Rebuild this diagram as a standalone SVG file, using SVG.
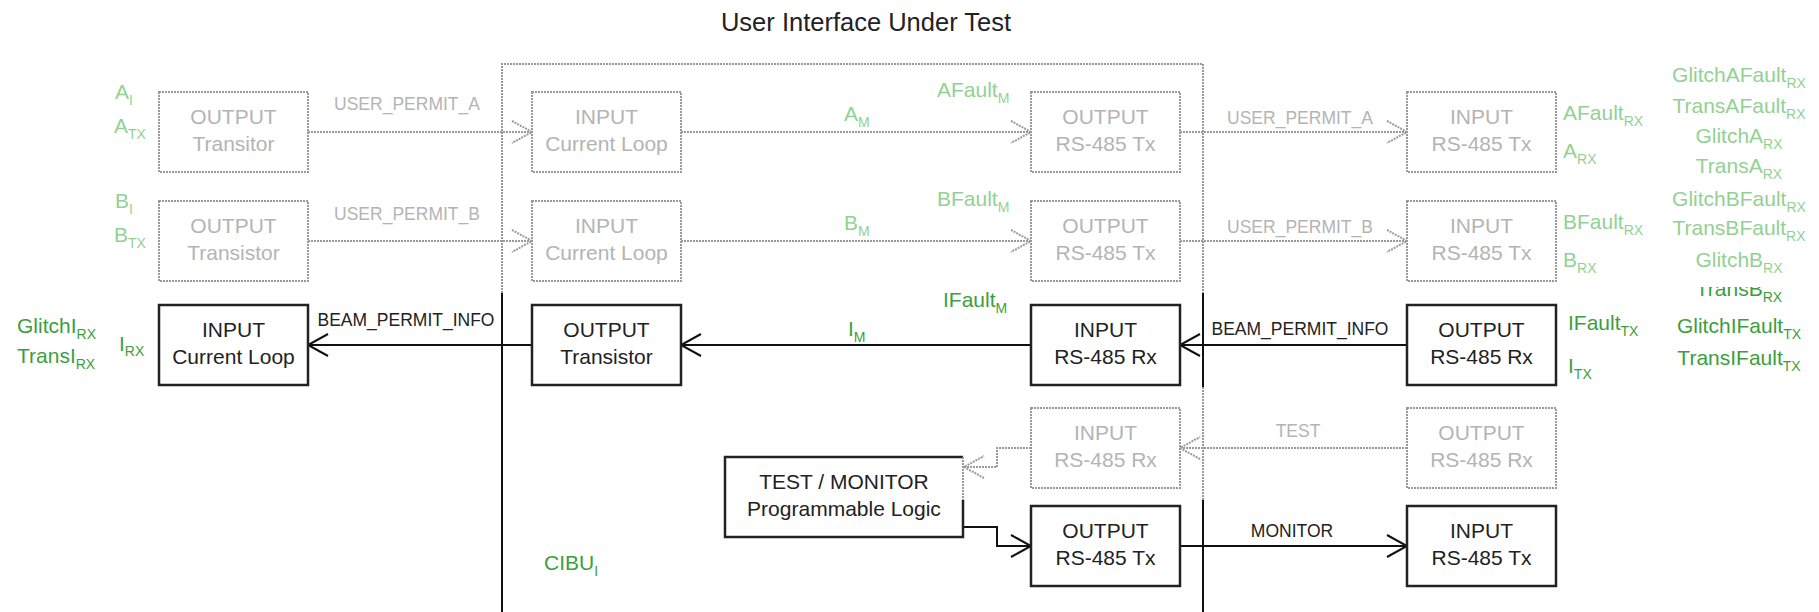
<svg xmlns="http://www.w3.org/2000/svg" width="1819" height="612" viewBox="0 0 1819 612">
<style>
text{font-family:"Liberation Sans",Arial,sans-serif}
.box{fill:#fff;stroke:#222;stroke-width:2.5}
.dbox{fill:#fff;stroke:#9a9a9a;stroke-width:2;stroke-dasharray:2 1}
.ln{fill:none;stroke:#111;stroke-width:2}
.dln{fill:none;stroke:#9a9a9a;stroke-width:2;stroke-dasharray:2 1}
.t{font-size:21px;text-anchor:middle;fill:#222}
.gt{font-size:21px;text-anchor:middle;fill:#b4b4b4}
.lbl{font-size:17.5px;text-anchor:middle;fill:#222}
.glbl{font-size:17.5px;text-anchor:middle;fill:#b4b4b4}
.g{font-size:21px;fill:#3c9e3c}
.lg{font-size:21px;fill:#93d193}
.mid{text-anchor:middle}
.s{font-size:14px}
</style>
<defs>
<marker id="ah" markerUnits="userSpaceOnUse" markerWidth="24" markerHeight="26" viewBox="-22 -13 24 26" refX="0" refY="0" orient="auto" overflow="visible">
<path d="M-20,-11 L0,0 L-20,11" fill="none" stroke="#111" stroke-width="2"/>
</marker>
<marker id="dah" markerUnits="userSpaceOnUse" markerWidth="24" markerHeight="26" viewBox="-22 -13 24 26" refX="0" refY="0" orient="auto" overflow="visible">
<path d="M-20,-11 L0,0 L-20,11" fill="none" stroke="#9a9a9a" stroke-width="2" stroke-dasharray="2 1"/>
</marker>
<clipPath id="clipTB"><rect x="1600" y="287" width="219" height="40"/></clipPath>
</defs>
<rect width="1819" height="612" fill="#fff"/>
<text x="866" y="31" style="font-size:25.5px;fill:#222" text-anchor="middle">User Interface Under Test</text>

<g id="boundary">
<path class="dln" d="M502,293 V64 H1203 V293"/>
<path class="ln" d="M502,293 V612"/>
<path class="ln" d="M1203,293 V387"/>
<path class="dln" d="M1203,387 V500"/>
<path class="ln" d="M1203,500 V612"/>
</g>

<g id="connectors">
<path class="dln" d="M308,132 H532" marker-end="url(#dah)"/>
<path class="dln" d="M681,132 H1031" marker-end="url(#dah)"/>
<path class="dln" d="M1180,132 H1407" marker-end="url(#dah)"/>
<path class="dln" d="M308,241 H532" marker-end="url(#dah)"/>
<path class="dln" d="M681,241 H1031" marker-end="url(#dah)"/>
<path class="dln" d="M1180,241 H1407" marker-end="url(#dah)"/>
<path class="ln" d="M1407,345 H1180" marker-end="url(#ah)"/>
<path class="ln" d="M1031,345 H681" marker-end="url(#ah)"/>
<path class="ln" d="M532,345 H308" marker-end="url(#ah)"/>
<path class="dln" d="M1407,448 H1180" marker-end="url(#dah)"/>
<path class="dln" d="M1031,448 H997 V467 H964" marker-end="url(#dah)"/>
<path class="ln" d="M963,527 H997 V546 H1031" marker-end="url(#ah)"/>
<path class="ln" d="M1180,546 H1407" marker-end="url(#ah)"/>
<text class="glbl" x="407" y="110">USER_PERMIT_A</text>
<text class="glbl" x="407" y="220">USER_PERMIT_B</text>
<text class="glbl" x="1300" y="124">USER_PERMIT_A</text>
<text class="glbl" x="1300" y="233">USER_PERMIT_B</text>
<text class="lbl" x="406" y="326">BEAM_PERMIT_INFO</text>
<text class="lbl" x="1300" y="335">BEAM_PERMIT_INFO</text>
<text class="glbl" x="1298" y="437">TEST</text>
<text class="lbl" x="1292" y="537">MONITOR</text>
</g>

<g id="a-out-transitor"><rect class="dbox" x="159" y="92" width="149" height="80"/><text class="gt" x="233.5" y="124">OUTPUT</text><text class="gt" x="233.5" y="151">Transitor</text></g>
<g id="a-in-currentloop"><rect class="dbox" x="532" y="92" width="149" height="80"/><text class="gt" x="606.5" y="124">INPUT</text><text class="gt" x="606.5" y="151">Current Loop</text></g>
<g id="a-out-rs485tx"><rect class="dbox" x="1031" y="92" width="149" height="80"/><text class="gt" x="1105.5" y="124">OUTPUT</text><text class="gt" x="1105.5" y="151">RS-485 Tx</text></g>
<g id="a-in-rs485tx"><rect class="dbox" x="1407" y="92" width="149" height="80"/><text class="gt" x="1481.5" y="124">INPUT</text><text class="gt" x="1481.5" y="151">RS-485 Tx</text></g>

<g id="b-out-transistor"><rect class="dbox" x="159" y="201" width="149" height="80"/><text class="gt" x="233.5" y="233">OUTPUT</text><text class="gt" x="233.5" y="260">Transistor</text></g>
<g id="b-in-currentloop"><rect class="dbox" x="532" y="201" width="149" height="80"/><text class="gt" x="606.5" y="233">INPUT</text><text class="gt" x="606.5" y="260">Current Loop</text></g>
<g id="b-out-rs485tx"><rect class="dbox" x="1031" y="201" width="149" height="80"/><text class="gt" x="1105.5" y="233">OUTPUT</text><text class="gt" x="1105.5" y="260">RS-485 Tx</text></g>
<g id="b-in-rs485tx"><rect class="dbox" x="1407" y="201" width="149" height="80"/><text class="gt" x="1481.5" y="233">INPUT</text><text class="gt" x="1481.5" y="260">RS-485 Tx</text></g>

<g id="i-in-currentloop"><rect class="box" x="159" y="305" width="149" height="80"/><text class="t" x="233.5" y="337">INPUT</text><text class="t" x="233.5" y="364">Current Loop</text></g>
<g id="i-out-transistor"><rect class="box" x="532" y="305" width="149" height="80"/><text class="t" x="606.5" y="337">OUTPUT</text><text class="t" x="606.5" y="364">Transistor</text></g>
<g id="i-in-rs485rx"><rect class="box" x="1031" y="305" width="149" height="80"/><text class="t" x="1105.5" y="337">INPUT</text><text class="t" x="1105.5" y="364">RS-485 Rx</text></g>
<g id="i-out-rs485rx"><rect class="box" x="1407" y="305" width="149" height="80"/><text class="t" x="1481.5" y="337">OUTPUT</text><text class="t" x="1481.5" y="364">RS-485 Rx</text></g>

<g id="t-in-rs485rx"><rect class="dbox" x="1031" y="408" width="149" height="80"/><text class="gt" x="1105.5" y="440">INPUT</text><text class="gt" x="1105.5" y="467">RS-485 Rx</text></g>
<g id="t-out-rs485rx"><rect class="dbox" x="1407" y="408" width="149" height="80"/><text class="gt" x="1481.5" y="440">OUTPUT</text><text class="gt" x="1481.5" y="467">RS-485 Rx</text></g>

<g id="test-monitor">
<rect x="725" y="457" width="238" height="80" fill="#fff"/>
<path class="box" d="M963,500 V537 H725 V457 H963" fill="none"/>
<path class="dln" d="M963,457 V500"/>
<text class="t" x="844" y="489">TEST / MONITOR</text><text class="t" x="844" y="516">Programmable Logic</text>
</g>
<g id="m-out-rs485tx"><rect class="box" x="1031" y="506" width="149" height="80"/><text class="t" x="1105.5" y="538">OUTPUT</text><text class="t" x="1105.5" y="565">RS-485 Tx</text></g>
<g id="m-in-rs485tx"><rect class="box" x="1407" y="506" width="149" height="80"/><text class="t" x="1481.5" y="538">INPUT</text><text class="t" x="1481.5" y="565">RS-485 Tx</text></g>

<g id="signal-labels">
<text class="lg" x="115" y="99">A<tspan class="s" dy="6">I</tspan></text>
<text class="lg" x="114" y="133">A<tspan class="s" dy="6">TX</tspan></text>
<text class="lg" x="115" y="208">B<tspan class="s" dy="6">I</tspan></text>
<text class="lg" x="114" y="242">B<tspan class="s" dy="6">TX</tspan></text>
<text class="lg" x="937" y="97">AFault<tspan class="s" dy="6">M</tspan></text>
<text class="lg" x="844" y="121">A<tspan class="s" dy="6">M</tspan></text>
<text class="lg" x="937" y="206">BFault<tspan class="s" dy="6">M</tspan></text>
<text class="lg" x="844" y="230">B<tspan class="s" dy="6">M</tspan></text>
<text class="lg" x="1563" y="120">AFault<tspan class="s" dy="6">RX</tspan></text>
<text class="lg" x="1563" y="158">A<tspan class="s" dy="6">RX</tspan></text>
<text class="lg" x="1563" y="229">BFault<tspan class="s" dy="6">RX</tspan></text>
<text class="lg" x="1563" y="267">B<tspan class="s" dy="6">RX</tspan></text>
<text class="lg mid" x="1739" y="82">GlitchAFault<tspan class="s" dy="6">RX</tspan></text>
<text class="lg mid" x="1739" y="113">TransAFault<tspan class="s" dy="6">RX</tspan></text>
<text class="lg mid" x="1739" y="143">GlitchA<tspan class="s" dy="6">RX</tspan></text>
<text class="lg mid" x="1739" y="173">TransA<tspan class="s" dy="6">RX</tspan></text>
<text class="lg mid" x="1739" y="206">GlitchBFault<tspan class="s" dy="6">RX</tspan></text>
<text class="lg mid" x="1739" y="235">TransBFault<tspan class="s" dy="6">RX</tspan></text>
<text class="lg mid" x="1739" y="267">GlitchB<tspan class="s" dy="6">RX</tspan></text>
<text class="g mid" x="1739" y="296" clip-path="url(#clipTB)">TransB<tspan class="s" dy="6">RX</tspan></text>
<text class="g" x="943" y="307">IFault<tspan class="s" dy="6">M</tspan></text>
<text class="g" x="848" y="336">I<tspan class="s" dy="6">M</tspan></text>
<text class="g" x="1568" y="330">IFault<tspan class="s" dy="6">TX</tspan></text>
<text class="g" x="1568" y="373">I<tspan class="s" dy="6">TX</tspan></text>
<text class="g mid" x="1739" y="333">GlitchIFault<tspan class="s" dy="6">TX</tspan></text>
<text class="g mid" x="1739" y="365">TransIFault<tspan class="s" dy="6">TX</tspan></text>
<text class="g" x="17" y="333">GlitchI<tspan class="s" dy="6">RX</tspan></text>
<text class="g" x="17" y="363">TransI<tspan class="s" dy="6">RX</tspan></text>
<text class="g" x="119" y="351">I<tspan class="s" dy="5">RX</tspan></text>
<text class="g" x="544" y="570">CIBU<tspan class="s" dy="6">I</tspan></text>
</g>
</svg>
